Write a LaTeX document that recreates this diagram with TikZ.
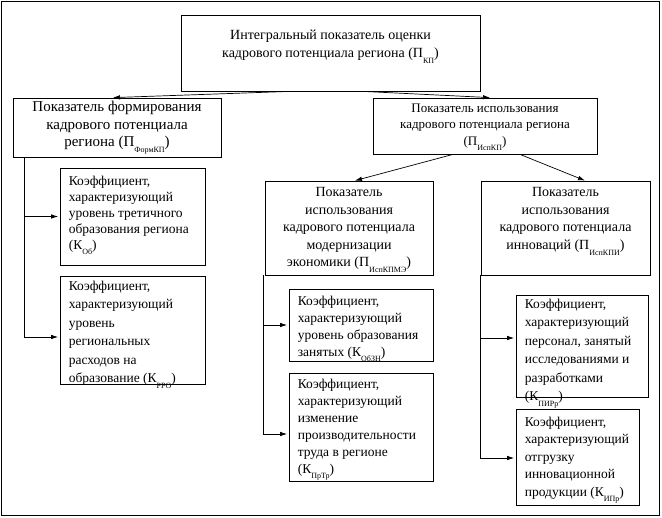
\documentclass[tikz,border=0pt]{standalone}
\usepackage{fontspec}
\setmainfont{Liberation Serif}
\usetikzlibrary{arrows.meta,calc}
\newcommand{\idx}[1]{\raisebox{-0.9ex}{\fontsize{8}{8}\selectfont #1}}
\tikzset{
  box/.style={draw, line width=0.8pt, inner sep=0pt},
  ctext/.style={inner sep=0pt, align=center, font=\fontsize{14}{18}\selectfont},
  ltext/.style={inner sep=0pt, align=left, anchor=north west, font=\fontsize{13.5}{18.5}\selectfont},
  arr/.style={line width=0.7pt, -{Latex[length=7pt,width=4.5pt]}},
  ln/.style={line width=0.7pt}
}
\begin{document}
\begin{tikzpicture}[x=1pt,y=-1pt]
\useasboundingbox (0,0) rectangle (662,518);
\node[box, minimum width=658pt, minimum height=514pt] (frame) at (330,258) {};
% top level
\node[box, minimum width=299pt, minimum height=76pt] (top) at (330.5,53) {};
\node[ctext, anchor=north] (topt) at ([yshift=-15pt]top.north)
  {Интегральный показатель оценки\\кадрового потенциала региона (П\idx{КП})};
% second level
\node[box, minimum width=208pt, minimum height=59pt] (form) at (117,127.5) {};
\node[ctext, anchor=north, font=\fontsize{15}{17.5}\selectfont] (formt) at ([yshift=-3.5pt]form.north)
  {Показатель формирования\\кадрового потенциала\\региона (П\idx{ФормКП})};
\node[box, minimum width=224pt, minimum height=56pt] (isp) at (485,126) {};
\node[ctext, anchor=north, font=\fontsize{13}{16.5}\selectfont] (ispt) at ([yshift=-6pt]isp.north)
  {Показатель использования\\кадрового потенциала региона\\(П\idx{ИспКП})};
% third level
\node[box, minimum width=168pt, minimum height=94pt] (mod) at (349,228) {};
\node[ctext, anchor=north, font=\fontsize{14}{17.5}\selectfont] (modt) at ([yshift=-7pt]mod.north)
  {Показатель\\использования\\кадрового потенциала\\модернизации\\экономики (П\idx{ИспКПМЭ})};
\node[box, minimum width=169pt, minimum height=94pt] (inn) at (565.5,228) {};
\node[ctext, anchor=north, font=\fontsize{14}{17.5}\selectfont] (innt) at ([yshift=-7pt]inn.north)
  {Показатель\\использования\\кадрового потенциала\\инноваций (П\idx{ИспКПИ})};
% coefficient boxes
\node[box, minimum width=145pt, minimum height=97pt] (kob) at (132.5,216.5) {};
\node[ltext, font=\fontsize{13.5}{16}\selectfont] (kobt) at ([xshift=9pt,yshift=-8pt]kob.north west)
  {Коэффициент,\\характеризующий\\уровень третичного\\образования региона\\(К\idx{Об})};
\node[box, minimum width=145pt, minimum height=108pt] (krro) at (132.5,330) {};
\node[ltext] (krrot) at ([xshift=9pt,yshift=-5pt]krro.north west)
  {Коэффициент,\\характеризующий\\уровень\\региональных\\расходов на\\образование (К\idx{РРО})};
\node[box, minimum width=144pt, minimum height=72pt] (kobzn) at (361,325) {};
\node[ltext, font=\fontsize{13.5}{17}\selectfont] (kobznt) at ([xshift=9pt,yshift=-7pt]kobzn.north west)
  {Коэффициент,\\характеризующий\\уровень образования\\занятых (К\idx{ОбЗН})};
\node[box, minimum width=144pt, minimum height=108pt] (kprtr) at (361,427) {};
\node[ltext, font=\fontsize{13.5}{17}\selectfont] (kprtrt) at ([xshift=9pt,yshift=-6pt]kprtr.north west)
  {Коэффициент,\\характеризующий\\изменение\\производительности\\труда в регионе\\(К\idx{ПрТр})};
\node[box, minimum width=132pt, minimum height=102pt] (kpir) at (582,346) {};
\node[ltext] (kpirt) at ([xshift=9pt,yshift=-4pt]kpir.north west)
  {Коэффициент,\\характеризующий\\персонал, занятый\\исследованиями и\\разработками\\(К\idx{ПИРр})};
\node[box, minimum width=123pt, minimum height=96pt] (kip) at (577.5,457) {};
\node[ltext, font=\fontsize{13.5}{17.5}\selectfont] (kipt) at ([xshift=9pt,yshift=-8pt]kip.north west)
  {Коэффициент,\\характеризующий\\отгрузку\\инновационной\\продукции (К\idx{ИПр})};
% connectors top
\draw[arr] ([xshift=-40.5pt]top.south) -- ([xshift=-4pt]form.north);
\draw[arr] ([xshift=32.5pt]top.south) -- ([xshift=5pt]isp.north);
\draw[arr] ([xshift=-32pt]isp.south) -- ([xshift=6pt]mod.north);
\draw[arr] ([xshift=35pt]isp.south) -- ([xshift=19.5pt]inn.north);
% left branch
\coordinate (lb) at ([xshift=12pt]form.south west);
\draw[arr, shorten >=1.5pt] (lb) |- (kob.west);
\draw[arr, shorten >=1.5pt] (lb) |- ([yshift=-7pt]krro.west);
% middle branch
\coordinate (mb) at ([xshift=-1pt]mod.south west);
\draw[arr, shorten >=1.5pt] (mb) |- (kobzn.west);
\draw[arr, shorten >=1.5pt] (mb) |- ([yshift=-7pt]kprtr.west);
% right branch
\coordinate (rb) at (inn.south west);
\draw[arr, shorten >=1.5pt] (rb) |- ([yshift=8pt]kpir.west);
\draw[arr, shorten >=1.5pt] (rb) |- ([yshift=-1pt]kip.west);
\end{tikzpicture}
\end{document}
